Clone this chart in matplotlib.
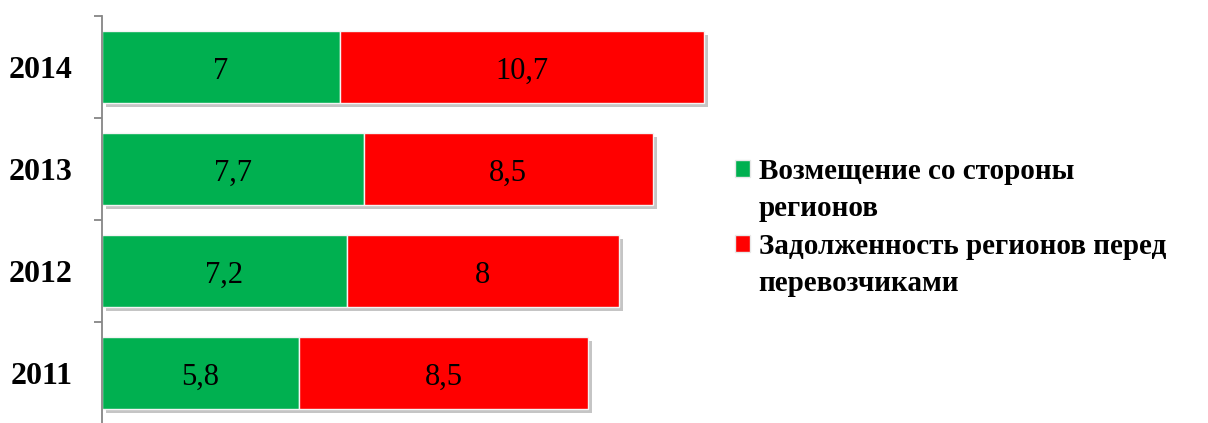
import matplotlib
matplotlib.use("Agg")
import matplotlib.pyplot as plt
import matplotlib.patheffects as pe
from matplotlib.patches import Patch

years = ["2011", "2012", "2013", "2014"]
compensation = [5.8, 7.2, 7.7, 7.0]
debt = [8.5, 8.0, 8.5, 10.7]
series_lines = [["Возмещение со стороны", "регионов"],
                ["Задолженность регионов перед", "перевозчиками"]]
colors = ["#00B050", "#FF0000"]

plt.rcParams["font.family"] = ["Liberation Serif", "DejaVu Serif"]

W, H = 1208, 423
fig = plt.figure(figsize=(W / 100, H / 100), dpi=100)
ax = fig.add_axes([102 / W, 1 - 424 / H, 612 / W, 408 / H])

shadow = [pe.SimplePatchShadow(offset=(3, -3), shadow_rgbFace="#808080", alpha=0.45),
          pe.Normal()]

ypos = list(range(len(years)))
left = [0.0] * len(years)
for vals, col in zip([compensation, debt], colors):
    bars = ax.barh(ypos, vals, left=left, height=0.7, color=col,
                   edgecolor="#f4f4f4", linewidth=1.0)
    for b in bars:
        b.set_path_effects(shadow)
    for y, v, l in zip(ypos, vals, left):
        ax.annotate(f"{v:g}".replace(".", ","), (l + v / 2, y),
                    xytext=(0, -3), textcoords="offset points",
                    ha="center", va="center", fontsize=22, color="black")
    left = [a + b for a, b in zip(left, vals)]

ax.set_xlim(0, 18)
ax.set_ylim(-0.5, len(years) - 0.5)
ax.set_yticks(ypos)
ax.set_yticklabels(years, fontsize=23, fontweight="bold")
ax.tick_params(axis="y", which="major", length=0, pad=21)
ax.set_yticks([i - 0.5 for i in range(len(years) + 1)], minor=True)
ax.tick_params(axis="y", which="minor", length=6, width=1.3, color="#868686")
ax.set_xticks([])
for s in ["top", "right", "bottom"]:
    ax.spines[s].set_visible(False)
ax.spines["left"].set_color("#868686")
ax.spines["left"].set_linewidth(1.3)

# Legend: colour square on the first line of each entry, wrapped lines indented
handles, labels = [], []
for col, lines in zip(colors, series_lines):
    handles.append(Patch(facecolor=col, edgecolor="#e8e8e8"))
    labels.append(lines[0])
    for extra in lines[1:]:
        handles.append(Patch(facecolor="none", edgecolor="none"))
        labels.append(extra)
fig.legend(handles, labels, loc="upper left",
           bbox_to_anchor=(723 / W, 1 - 146 / H), frameon=False,
           prop={"size": 21, "weight": "bold"}, handlelength=0.52,
           handleheight=0.52, handletextpad=0.3, labelspacing=0.36,
           borderaxespad=0)

fig.savefig("out.png", dpi=100)
